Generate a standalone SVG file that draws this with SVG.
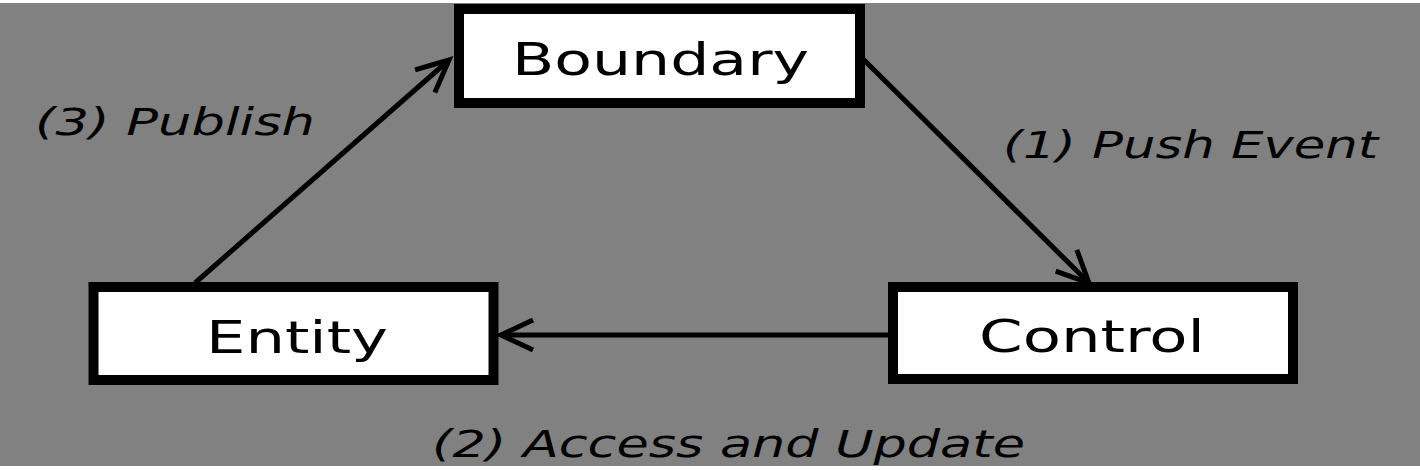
<svg xmlns="http://www.w3.org/2000/svg" width="1420" height="470" viewBox="0 0 1420 470">
<style>
.box{fill:#ffffff;stroke:#000000;stroke-width:10}
.lbl{font-family:"DejaVu Sans","Verdana",sans-serif;font-size:45px;fill:#000000}
.edge{font-family:"DejaVu Sans","Verdana",sans-serif;font-size:37px;font-style:italic;fill:#000000}
.conn{stroke:#000000;stroke-width:5;fill:none}
</style>
<defs>
<marker id="open" markerUnits="userSpaceOnUse" markerWidth="60" markerHeight="60" refX="0" refY="0" viewBox="-40 -30 50 60" orient="auto">
<path d="M -32,-15 L 0,0 L -32,15" fill="none" stroke="#000000" stroke-width="5"/>
</marker>
</defs>
<rect x="0" y="0" width="1420" height="470" fill="#ffffff"/>
<rect x="0" y="3" width="1420" height="463" fill="#818181"/>
<g id="connectors">
<line class="conn" x1="195" y1="283" x2="449" y2="60" marker-end="url(#open)"/>
<line class="conn" x1="862" y1="58" x2="1089" y2="283" marker-end="url(#open)"/>
<line class="conn" x1="890" y1="335" x2="501" y2="335" marker-end="url(#open)"/>
</g>
<g id="boundary">
<rect class="box" x="459" y="9" width="401" height="94"/>
<text class="lbl" x="512" y="75" textLength="297" lengthAdjust="spacingAndGlyphs">Boundary</text>
</g>
<g id="entity">
<rect class="box" x="93.5" y="287" width="400" height="93"/>
<text class="lbl" x="206" y="353" textLength="182" lengthAdjust="spacingAndGlyphs">Entity</text>
</g>
<g id="control">
<rect class="box" x="893" y="287" width="400" height="92"/>
<text class="lbl" x="979" y="352" textLength="226" lengthAdjust="spacingAndGlyphs">Control</text>
</g>
<g id="labels">
<text class="edge" x="35" y="135" textLength="280" lengthAdjust="spacingAndGlyphs">(3) Publish</text>
<text class="edge" x="1003" y="158" textLength="375" lengthAdjust="spacingAndGlyphs">(1) Push Event</text>
<text class="edge" x="432" y="457" textLength="593" lengthAdjust="spacingAndGlyphs">(2) Access and Update</text>
</g>
</svg>
